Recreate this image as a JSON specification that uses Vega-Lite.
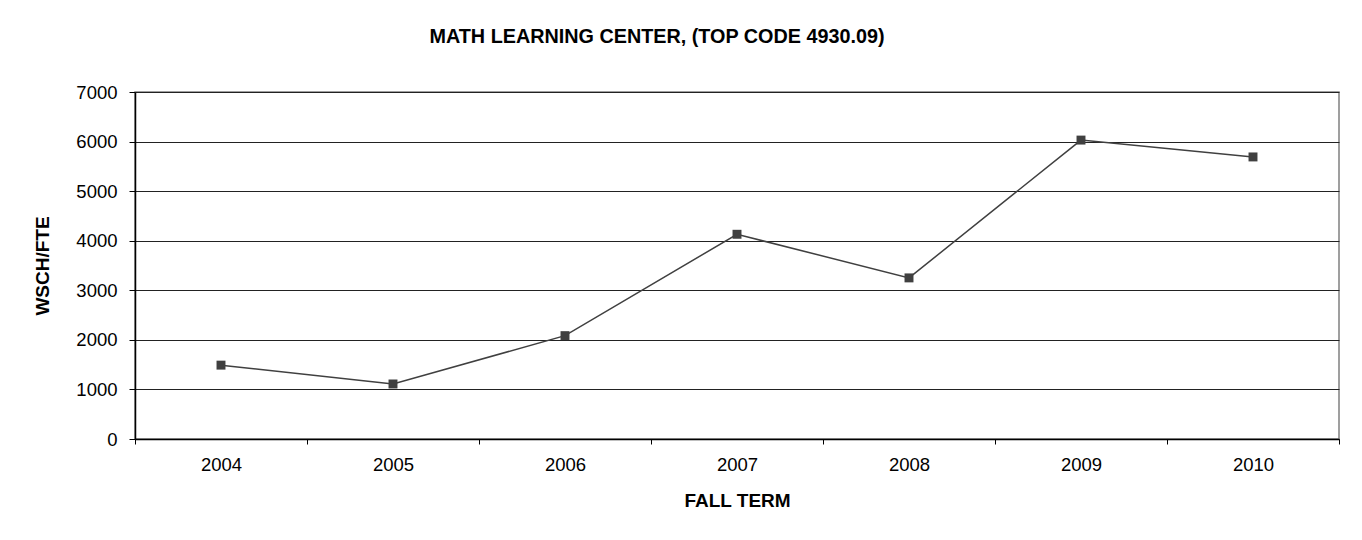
{
  "$schema": "https://vega.github.io/schema/vega-lite/v6.json",
  "width": 1204,
  "height": 347,
  "autosize": {"type": "none"},
  "padding": {"left": 135, "top": 92, "right": 23, "bottom": 101},
  "background": "white",
  "title": {
    "text": "MATH LEARNING CENTER, (TOP CODE 4930.09)",
    "font": "Liberation Sans",
    "fontSize": 19.8,
    "fontWeight": "bold",
    "color": "#000000",
    "anchor": "middle",
    "frame": "group",
    "dx": -80,
    "baseline": "alphabetic",
    "offset": 20
  },
  "config": {
    "view": {"stroke": "#808080", "strokeWidth": 1.5},
    "font": "Liberation Sans"
  },
  "data": {
    "values": [
      {"term": "2004", "value": 1490},
      {"term": "2005", "value": 1110},
      {"term": "2006", "value": 2085},
      {"term": "2007", "value": 4130},
      {"term": "2008", "value": 3250},
      {"term": "2009", "value": 6030},
      {"term": "2010", "value": 5690}
    ]
  },
  "encoding": {
    "x": {
      "field": "term",
      "type": "ordinal",
      "sort": null,
      "scale": {"type": "band", "paddingInner": 0, "paddingOuter": 0},
      "axis": {
        "title": "FALL TERM",
        "titleFont": "Liberation Sans",
        "titleFontSize": 19,
        "titleFontWeight": "bold",
        "titleColor": "#000000",
        "titlePadding": 18,
        "labelFont": "Liberation Sans",
        "labelFontSize": 18.5,
        "labelColor": "#000000",
        "labelAngle": 0,
        "labelPadding": 11,
        "tickBand": "extent",
        "tickSize": 5,
        "tickColor": "#000000",
        "domainColor": "#000000",
        "domainWidth": 1.5,
        "grid": false
      }
    },
    "y": {
      "field": "value",
      "type": "quantitative",
      "scale": {"domain": [0, 7000], "nice": false},
      "axis": {
        "title": "WSCH/FTE",
        "titleFont": "Liberation Sans",
        "titleFontSize": 19,
        "titleFontWeight": "bold",
        "titleColor": "#000000",
        "titlePadding": 23,
        "values": [0, 1000, 2000, 3000, 4000, 5000, 6000, 7000],
        "format": "d",
        "labelFont": "Liberation Sans",
        "labelFontSize": 18.5,
        "labelColor": "#000000",
        "labelPadding": 12,
        "tickSize": 6,
        "tickColor": "#000000",
        "domainColor": "#000000",
        "domainWidth": 1.5,
        "grid": true,
        "gridColor": "#222222",
        "gridWidth": 1
      }
    }
  },
  "layer": [
    {
      "mark": {"type": "line", "color": "#404040", "strokeWidth": 1.5}
    },
    {
      "mark": {"type": "point", "shape": "square", "filled": true, "size": 80, "color": "#404040", "opacity": 1}
    }
  ]
}
